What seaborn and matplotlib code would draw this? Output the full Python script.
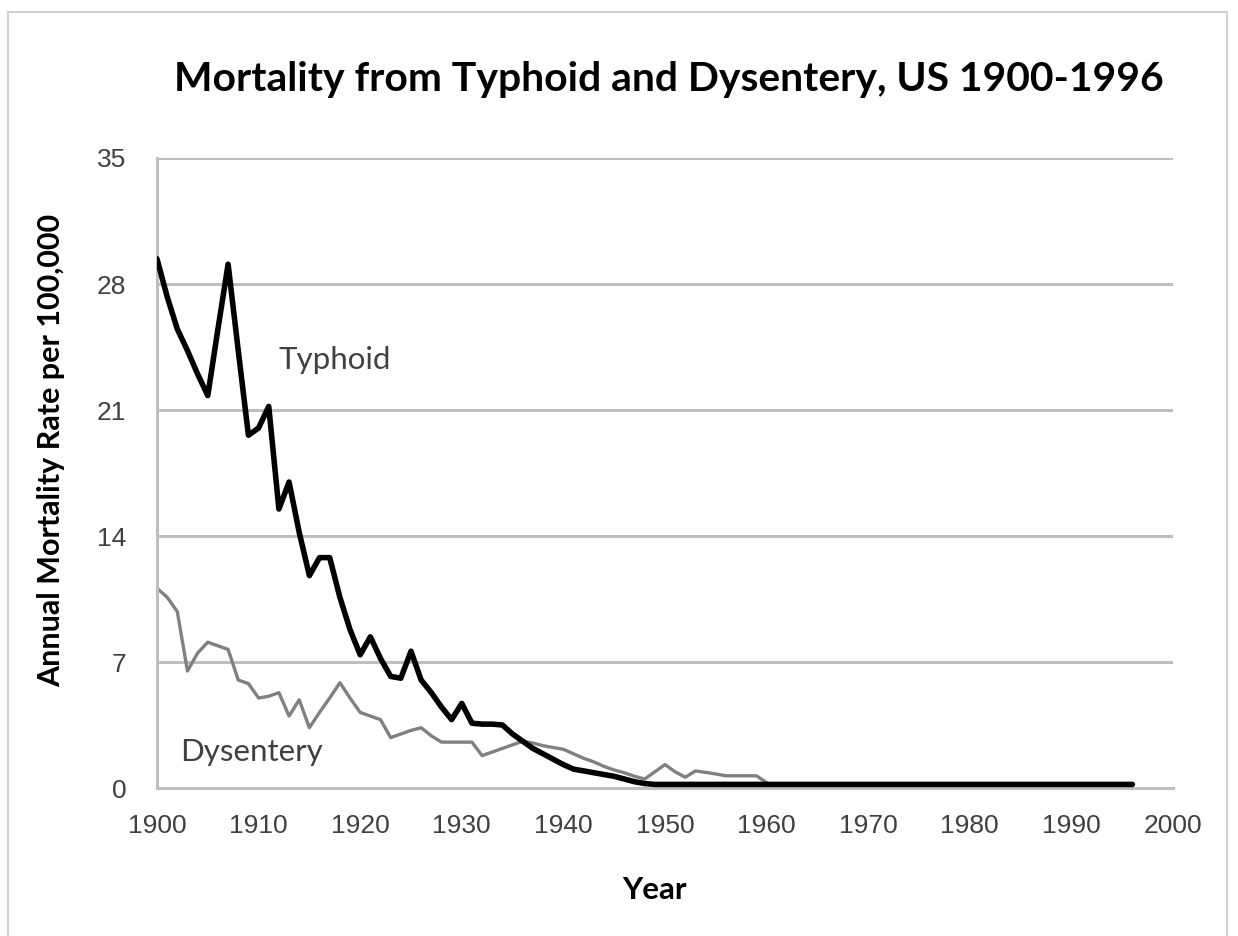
import matplotlib
matplotlib.use("Agg")
import matplotlib.pyplot as plt
import seaborn as sns
import pandas as pd
from matplotlib.patches import Rectangle

# annual mortality per 100,000
years_typhoid = list(range(1900, 1997))
typhoid = [
    29.4, 27.3, 25.5, 24.3, 23.0, 21.8, 25.5, 29.1, 24.3, 19.6,   # 1900s
    20.0, 21.2, 15.5, 17.0, 14.2, 11.8, 12.8, 12.8, 10.6, 8.8,    # 1910s
    7.4, 8.4, 7.2, 6.2, 6.1, 7.6, 6.0, 5.3, 4.5, 3.8,             # 1920s
    4.7, 3.6, 3.55, 3.55, 3.5, 3.0, 2.6, 2.2, 1.9, 1.6,           # 1930s
    1.3, 1.05, 0.95, 0.85, 0.75, 0.65, 0.5, 0.35, 0.25, 0.2,      # 1940s
    0.2, 0.2, 0.2, 0.2, 0.2, 0.2, 0.2, 0.2, 0.2, 0.2,             # 1950s
    0.2, 0.2, 0.2, 0.2, 0.2, 0.2, 0.2, 0.2, 0.2, 0.2,             # 1960s
    0.2, 0.2, 0.2, 0.2, 0.2, 0.2, 0.2, 0.2, 0.2, 0.2,             # 1970s
    0.2, 0.2, 0.2, 0.2, 0.2, 0.2, 0.2, 0.2, 0.2, 0.2,             # 1980s
    0.2, 0.2, 0.2, 0.2, 0.2, 0.2, 0.2,                            # 1990-96
]

years_dysentery = list(range(1900, 1961))
dysentery = [
    11.1, 10.6, 9.8, 6.5, 7.5, 8.1, 7.9, 7.7, 6.0, 5.8,           # 1900s
    5.0, 5.1, 5.3, 4.0, 4.9, 3.35, 4.2, 5.0, 5.85, 5.0,           # 1910s
    4.2, 4.0, 3.8, 2.8, 3.0, 3.2, 3.35, 2.9, 2.55, 2.55,          # 1920s
    2.55, 2.55, 1.8, 2.0, 2.2, 2.4, 2.6, 2.5, 2.35, 2.25,         # 1930s
    2.15, 1.9, 1.65, 1.45, 1.2, 1.0, 0.85, 0.65, 0.5, 0.9,        # 1940s
    1.3, 0.9, 0.6, 0.95, 0.87, 0.78, 0.68, 0.68, 0.68, 0.68,      # 1950s
    0.3,                                                          # 1960
]

x_ticks = list(range(1900, 2001, 10))
y_ticks = [0, 7, 14, 21, 28, 35]

df_t = pd.DataFrame({"Year": years_typhoid, "Rate": typhoid})
df_d = pd.DataFrame({"Year": years_dysentery, "Rate": dysentery})

sns.set_style("white")
plt.rcParams["font.family"] = ["Liberation Sans", "DejaVu Sans"]

fig = plt.figure(figsize=(12.38, 9.36), dpi=100)
ax = fig.add_axes([0.1268, 0.1581, 0.8207, 0.6731])

grid_c = "#bfbfbf"
for y in y_ticks[1:]:
    ax.axhline(y, color=grid_c, lw=2.2, zorder=0)

sns.lineplot(data=df_d, x="Year", y="Rate", ax=ax, color="#808080", lw=2.4,
             solid_joinstyle="round", solid_capstyle="round", zorder=2)
sns.lineplot(data=df_t, x="Year", y="Rate", ax=ax, color="black", lw=4.0,
             solid_joinstyle="round", solid_capstyle="round", zorder=3)

ax.set_xlim(1900, 2000)
ax.set_ylim(0, 35)
ax.set_xticks(x_ticks)
ax.set_yticks(y_ticks)
ax.set_xlabel("")
ax.set_ylabel("")

for s in ["top", "right"]:
    ax.spines[s].set_visible(False)
for s in ["left", "bottom"]:
    ax.spines[s].set_color(grid_c)
    ax.spines[s].set_linewidth(2.2)

ax.tick_params(axis="both", direction="out", color=grid_c, width=2.0,
               length=9, labelsize=19, labelcolor="#404040")
ax.tick_params(axis="y", pad=13)
ax.tick_params(axis="x", pad=10)

bold = dict(family=["Lato", "DejaVu Sans"], fontweight="bold", color="black",
            ha="center", va="center")
fig.text(654 / 1238, 1 - 890 / 936, "Year", fontsize=22.5, **bold)
fig.text(51 / 1238, 1 - 450 / 936, "Annual Mortality Rate per 100,000",
         rotation=90, fontsize=22, **bold)
fig.text(669 / 1238, 1 - 80 / 936,
         "Mortality from Typhoid and Dysentery, US 1900-1996",
         fontsize=29.4, **bold)

lab = dict(family=["Lato", "DejaVu Sans"], fontsize=22.5, color="#404040",
           ha="center", va="center")
ax.text(1917.5, 23.8, "Typhoid", **lab)
ax.text(1909.3, 2.0, "Dysentery", **lab)

fig.patches.append(Rectangle((8 / 1238, -0.05), (1227 - 8) / 1238,
                             1.05 - 12 / 936, transform=fig.transFigure,
                             fill=False, edgecolor="#d0d0d0", lw=1.5))

fig.savefig("out.png", dpi=100, facecolor="white")
